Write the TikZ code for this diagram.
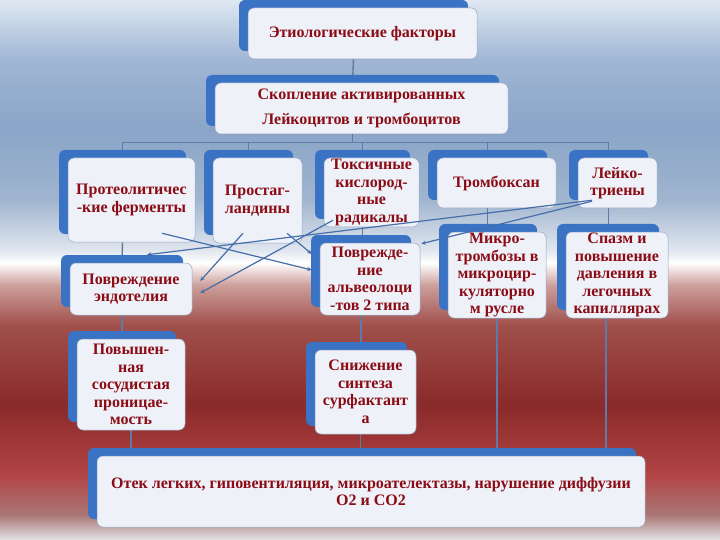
\documentclass[tikz,border=0pt]{standalone}
\usepackage{fontspec}
\setmainfont{Liberation Serif}
\usetikzlibrary{shadows,arrows.meta}
\definecolor{txtred}{RGB}{140,12,22}
\definecolor{backblue}{RGB}{58,114,196}
\definecolor{frontwhite}{RGB}{238,242,248}
\definecolor{edgegray}{RGB}{150,165,195}
\definecolor{linkblue}{RGB}{96,122,165}
\definecolor{arrowblue}{RGB}{70,110,170}
\definecolor{bgA}{RGB}{222,232,242}
\definecolor{bgB}{RGB}{160,182,212}
\definecolor{bgC}{RGB}{138,165,200}
\definecolor{bgD}{RGB}{160,181,207}
\definecolor{bgE}{RGB}{224,230,238}
\definecolor{bgF}{RGB}{205,160,156}
\definecolor{bgG}{RGB}{160,80,76}
\definecolor{bgH}{RGB}{138,42,42}
\definecolor{bgI}{RGB}{178,68,68}
\definecolor{bgJ}{RGB}{170,118,118}
\definecolor{bgK}{RGB}{226,226,228}
\pgfdeclarelayer{bg}
\pgfdeclarelayer{links}
\pgfsetlayers{bg,links,main}
\tikzset{
  card/.style={draw=edgegray, line width=0.5pt, fill=frontwhite, rounded corners=6pt,
    inner sep=1pt, align=center, text=txtred,
    font=\fontsize{16}{17.5}\selectfont\bfseries,
    drop shadow={shadow xshift=-9pt, shadow yshift=8pt, opacity=1, fill=backblue}},
  sz/.style 2 args={minimum width=#1pt, minimum height=#2pt},
  link/.style={draw=linkblue, line width=1.4pt},
  cross/.style={draw=arrowblue, line width=1.2pt, -{Stealth[length=4.5pt,width=4pt]}}
}
\begin{document}
\begin{tikzpicture}[x=1pt, y=-1pt]
  \useasboundingbox (0,0) rectangle (720,540);
  % background
  \begin{pgfonlayer}{bg}
    \shade[top color=bgA, bottom color=bgB] (0,0) rectangle (720,60);
    \shade[top color=bgB, bottom color=bgC] (0,60) rectangle (720,130);
    \shade[top color=bgC, bottom color=bgD] (0,130) rectangle (720,200);
    \shade[top color=bgD, bottom color=bgE] (0,200) rectangle (720,250);
    \shade[top color=bgE, bottom color=white] (0,250) rectangle (720,263);
    \shade[top color=white, bottom color=bgF] (0,263) rectangle (720,285);
    \shade[top color=bgF, bottom color=bgG] (0,285) rectangle (720,325);
    \shade[top color=bgG, bottom color=bgH] (0,325) rectangle (720,405);
    \shade[top color=bgH, bottom color=bgI] (0,405) rectangle (720,475);
    \shade[top color=bgI, bottom color=bgJ] (0,475) rectangle (720,515);
    \shade[top color=bgJ, bottom color=bgK] (0,515) rectangle (720,540);
  \end{pgfonlayer}

  \node[card, sz={229}{51}] (etio) at (362.5,33.5) {Этиологические факторы};
  \node[card, sz={293}{51}] (skop) at (361.5,108.5) {Скопление активированных\\[7pt]Лейкоцитов и тромбоцитов};

  \node[card, sz={127}{84}] (proteo) at (131.5,200) {Протеолитичес\\-кие ферменты};
  \node[card, sz={89}{85}] (prost) at (257.5,200.5) {Простаг-\\ландины};
  \node[card, sz={95}{69}] (toks) at (371.5,192.5) {Токсичные\\кислород-\\ные\\радикалы};
  \node[card, sz={119}{50}] (tromb) at (496.5,183) {Тромбоксан};
  \node[card, sz={79}{50}] (leiko) at (617.5,183) {Лейко-\\триены};

  \node[card, sz={122}{52}] (endot) at (131,289) {Повреждение\\эндотелия};
  \node[card, sz={100}{72}] (alveol) at (370,279) {Поврежде-\\ние\\альвеолоци\\-тов 2 типа};
  \node[card, sz={98}{86}] (mikro) at (497,275) {Микро-\\тромбозы в\\микроцир-\\куляторно\\м русле};
  \node[card, sz={102}{86}] (spazm) at (617,275) {Спазм и\\повышение\\давления в\\легочных\\капиллярах};

  \node[card, sz={108}{91}] (povysh) at (131,384.5) {Повышен-\\ная\\сосудистая\\проницае-\\мость};
  \node[card, sz={101}{84}] (snizh) at (365.5,392) {Снижение\\синтеза\\сурфактант\\а};

  \node[card, sz={548}{71}] (otek) at (371,491.5) {Отек легких, гиповентиляция, микроателектазы, нарушение диффузии\\О2 и СО2};

  % tree connectors
  \begin{pgfonlayer}{links}
    \draw[link] ([xshift=-9pt]etio.south) -- ([xshift=-9pt]skop.north);
    \draw[link] ([xshift=-9pt]skop.south) -- ++(0,8) coordinate (hub);
    \draw[link] ([xshift=-9pt]proteo.north |- hub) -- ([xshift=-9pt]leiko.north |- hub);
    \foreach \n in {proteo,prost,toks,tromb,leiko}{
      \draw[link] ([xshift=-9pt]\n.north |- hub) -- ([xshift=-9pt]\n.north);
    }
    \draw[link] ([xshift=-9pt]proteo.south) -- ([xshift=-9pt]endot.north);
    \draw[link] ([xshift=-9pt]endot.south) -- ([xshift=-9pt]povysh.north);
    \draw[link] (povysh.south) -- (povysh.south |- otek.north);
    \draw[link] ([xshift=-9pt]toks.south) -- ([xshift=-9pt]toks.south |- alveol.north);
    \draw[link] ([xshift=-9pt]alveol.south) -- ([xshift=-9pt]alveol.south |- snizh.north);
    \draw[link] ([xshift=-5pt]snizh.south) -- ([xshift=-5pt]snizh.south |- otek.north);
    \draw[link] ([xshift=-9pt]tromb.south) -- ([xshift=-9pt]tromb.south |- mikro.north);
    \draw[link] ([xshift=-9pt]leiko.south) -- ([xshift=-9pt]leiko.south |- spazm.north);
    \draw[link] (mikro.south) -- (mikro.south |- otek.north);
    \draw[link] ([xshift=-11pt]spazm.south) -- ([xshift=-11pt]spazm.south |- otek.north);
  \end{pgfonlayer}

  % crossing arrows
  \draw[cross] ([shift={(30.5,-9)}]proteo.south) -- ([shift={(-8,-9)}]alveol.west);
  \draw[cross] ([shift={(-14.5,-10)}]prost.south) -- ([shift={(8,-8)}]endot.east);
  \draw[cross] ([shift={(29.5,-10)}]prost.south) -- ([shift={(-8,-25)}]alveol.west);
  \draw[cross] ([shift={(-38.5,-7)}]toks.south) -- ([shift={(8,4)}]endot.east);
  \draw[cross] ([shift={(-25.5,-8)}]leiko.south) -- ([shift={(16,-8)}]endot.north);
  \draw[cross] ([shift={(-25.5,-7)}]leiko.south) -- ([shift={(1,1)}]alveol.north east);
\end{tikzpicture}
\end{document}
